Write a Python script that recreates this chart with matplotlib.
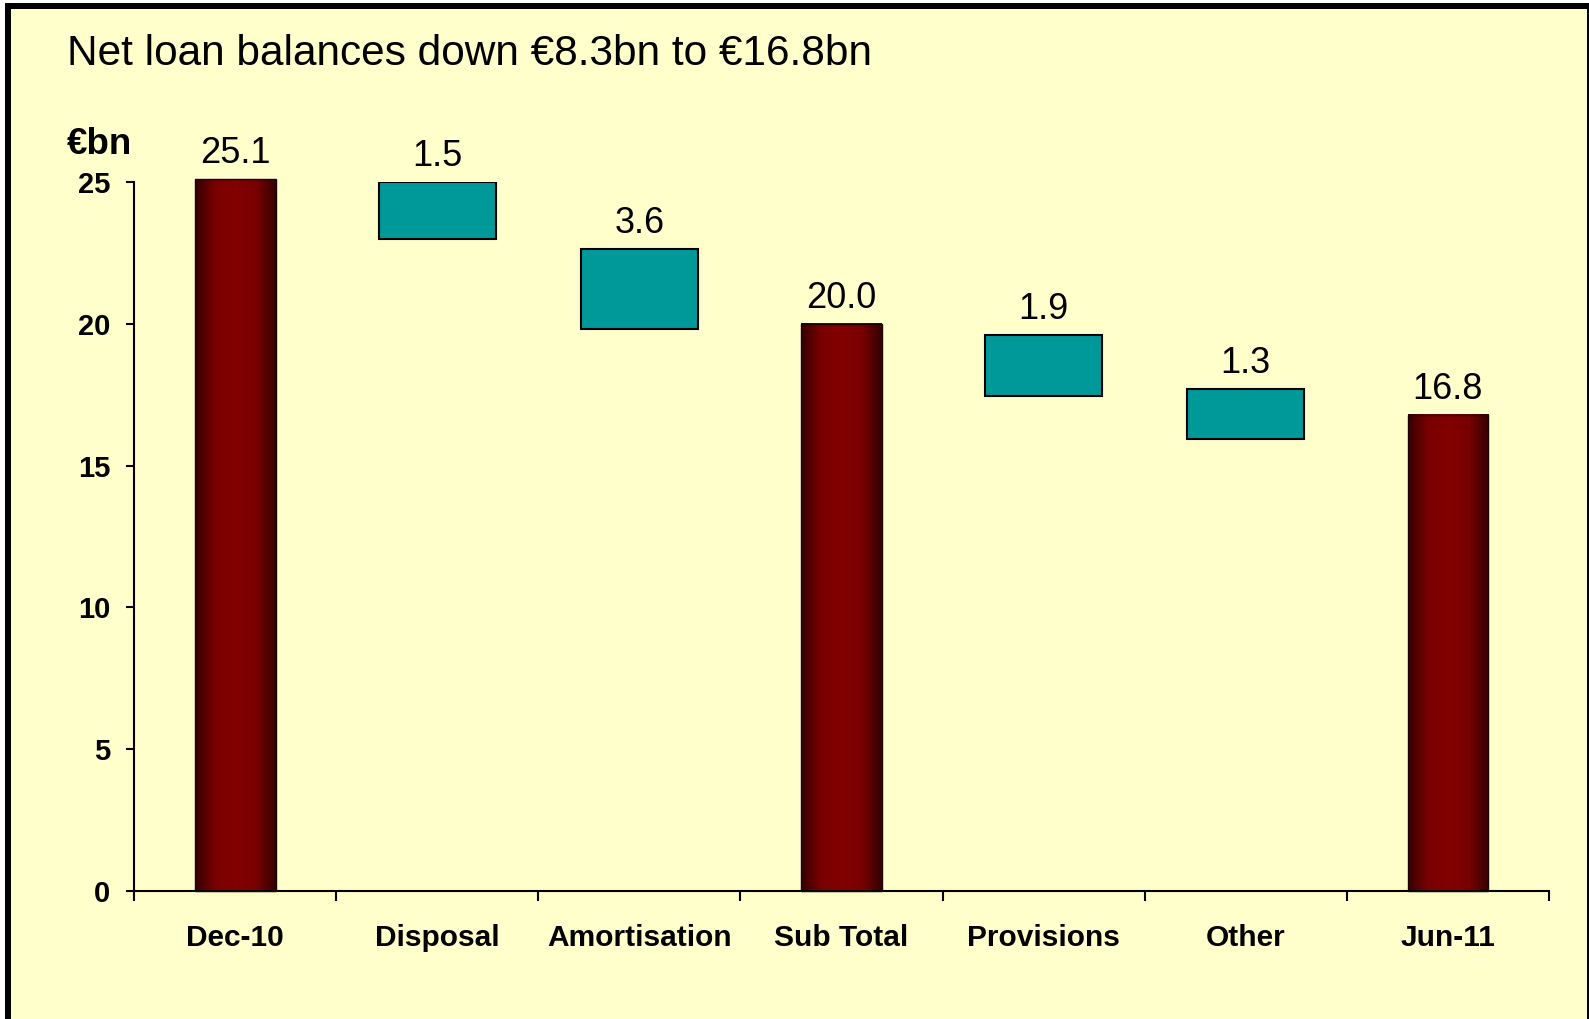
import numpy as np
import matplotlib
matplotlib.use('Agg')
import matplotlib.pyplot as plt
from matplotlib.colors import LinearSegmentedColormap
from matplotlib.patches import Rectangle

# data
categories = ['Dec-10', 'Disposal', 'Amortisation', 'Sub Total', 'Provisions', 'Other', 'Jun-11']
total_idx = [0, 3, 6]
total_values = [25.1, 20.0, 16.8]
step_idx = [1, 2, 4, 5]
step_labels = ['1.5', '3.6', '1.9', '1.3']
step_tops = [25.0, 22.65, 19.6, 17.7]
step_bottoms = [23.0, 19.8, 17.45, 15.95]
yticks = [0, 5, 10, 15, 20, 25]

plt.rcParams['font.family'] = ['Liberation Sans', 'DejaVu Sans']

W, H = 1589, 1019
fig = plt.figure(figsize=(W / 100, H / 100), dpi=100, facecolor='white')
# black frame + pale yellow slide background
fig.patches.append(Rectangle((5 / W, 0), (W - 5) / W, (H - 3) / H, transform=fig.transFigure,
                             facecolor='black', edgecolor='none', zorder=-2))
fig.patches.append(Rectangle((11 / W, 0), (1587 - 11) / W, (H - 9) / H, transform=fig.transFigure,
                             facecolor='#FFFFCC', edgecolor='none', zorder=-1))

ax = fig.add_axes([134 / W, 1 - 891 / H, (1549 - 134) / W, (891 - 182) / H])
ax.set_facecolor('none')

# total bars with horizontal maroon gradient
cmap = LinearSegmentedColormap.from_list('maroon', ['#360000', '#7a0000', '#820000', '#7a0000', '#360000'])
grad = np.linspace(0, 1, 256).reshape(1, -1)
for i, v in zip(total_idx, total_values):
    im = ax.imshow(grad, cmap=cmap, extent=(i - 0.2, i + 0.2, 0, v), aspect='auto',
                   origin='lower', zorder=2, interpolation='bilinear')
    im.set_clip_on(False)
    ax.bar(i, v, width=0.4, facecolor='none', edgecolor='#1a0000', linewidth=1,
           zorder=3, clip_on=False)
    ax.annotate(f'{v:.1f}', (i, v), xytext=(0, 11.5), textcoords='offset points',
                ha='center', va='baseline', fontsize=26, annotation_clip=False)

# floating teal steps
heights = np.array(step_tops) - np.array(step_bottoms)
ax.bar(step_idx, heights, bottom=step_bottoms, width=0.58, color='#009999',
       edgecolor='black', linewidth=1.5, zorder=3)
for i, lab, top in zip(step_idx, step_labels, step_tops):
    ax.annotate(lab, (i, top), xytext=(0, 11.5), textcoords='offset points',
                ha='center', va='baseline', fontsize=26, annotation_clip=False)

ax.set_xlim(-0.5, len(categories) - 0.5)
ax.set_ylim(0, 25)

ax.set_xticks(np.arange(-0.5, len(categories), 1))
ax.set_xticklabels([])
ax.set_xticks(range(len(categories)), minor=True)
ax.set_xticklabels(categories, minor=True, fontweight='bold', fontsize=21.5)
ax.tick_params(axis='x', which='major', length=7, width=1.5, direction='out')
ax.tick_params(axis='x', which='minor', length=0, pad=24)

ax.set_yticks(yticks)
ax.set_yticklabels([str(t) for t in yticks], fontweight='bold', fontsize=21)
ax.tick_params(axis='y', length=6, width=1.5, pad=11)

for s in ['top', 'right']:
    ax.spines[s].set_visible(False)
for s in ['left', 'bottom']:
    ax.spines[s].set_linewidth(1.5)

fig.text(67 / W, 1 - 54 / H, 'Net loan balances down €8.3bn to €16.8bn',
         fontsize=30.5, ha='left', va='center')
fig.text(67 / W, 1 - 144 / H, '€bn', fontsize=26.5, fontweight='bold', ha='left', va='center')

fig.savefig('out.png', dpi=100)
